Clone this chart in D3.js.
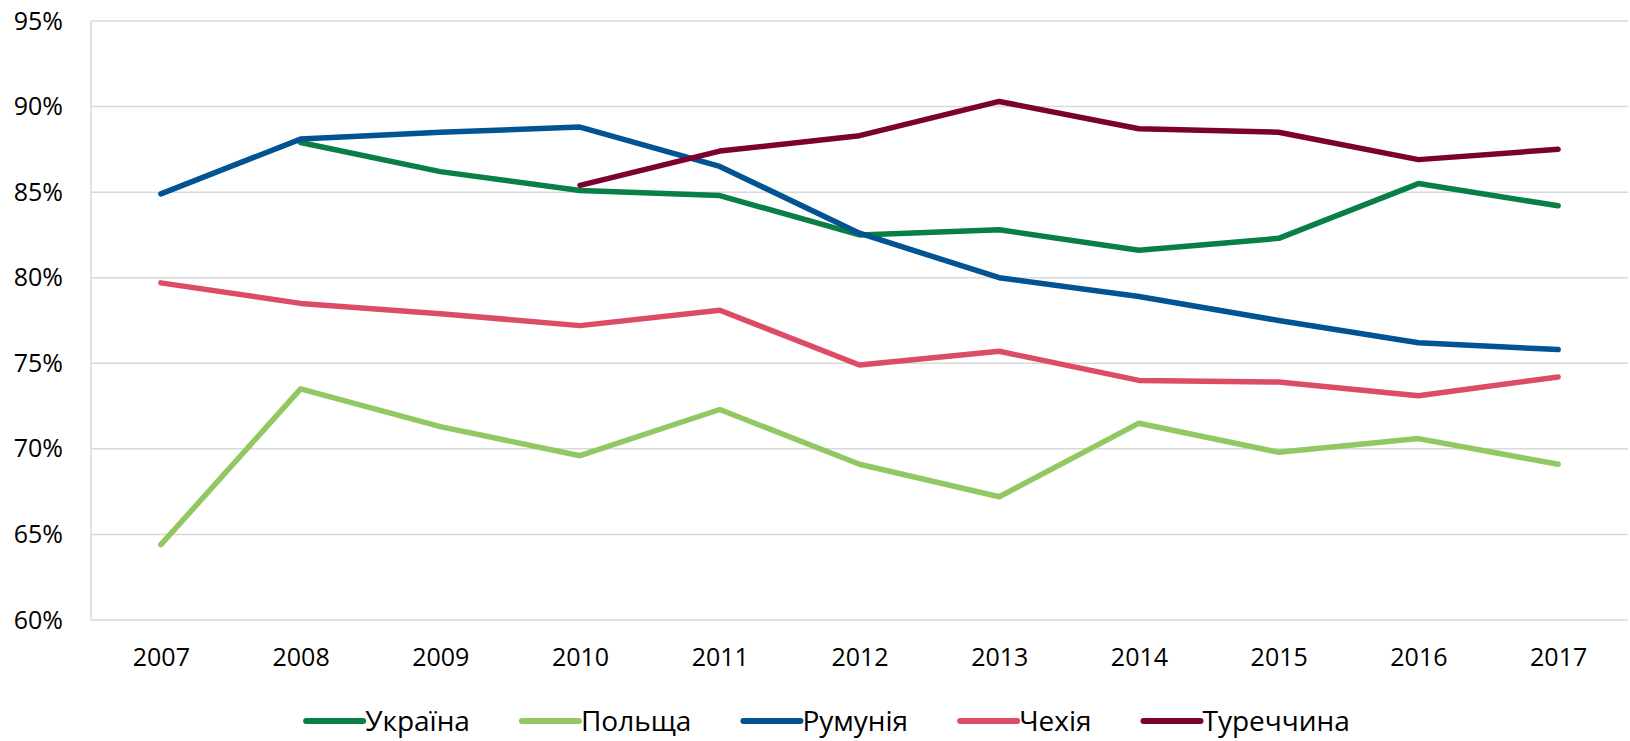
<!DOCTYPE html>
<html>
<head>
<meta charset="utf-8">
<script src="https://d3js.org/d3.v7.min.js"></script>
<title>D3</title>
<style>
  body { margin: 0; background: #fff; }
  text { font-family: "Open Sans", sans-serif; fill: #000; }
</style>
</head>
<body>
<script>
var years = ["2007", "2008", "2009", "2010", "2011", "2012", "2013", "2014", "2015", "2016", "2017"];
var yTicks = [0.60, 0.65, 0.70, 0.75, 0.80, 0.85, 0.90, 0.95];

// values in %, null = no data
var ukraine = [null, 87.9, 86.2, 85.1, 84.8, 82.5, 82.8, 81.6, 82.3, 85.5, 84.2];
var poland  = [64.4, 73.5, 71.3, 69.6, 72.3, 69.1, 67.2, 71.5, 69.8, 70.6, 69.1];
var romania = [84.9, 88.1, 88.5, 88.8, 86.5, 82.6, 80.0, 78.9, 77.5, 76.2, 75.8];
var czech   = [79.7, 78.5, 77.9, 77.2, 78.1, 74.9, 75.7, 74.0, 73.9, 73.1, 74.2];
var turkey  = [null, null, null, 85.4, 87.4, 88.3, 90.3, 88.7, 88.5, 86.9, 87.5];

var seriesNames = ["Україна", "Польща", "Румунія", "Чехія", "Туреччина"];
var seriesValues = [ukraine, poland, romania, czech, turkey];
var colors = ["#087f45", "#92c862", "#015491", "#dc4c67", "#7b0131"];

var W = 1630, H = 741;
var margin = { left: 91, right: 2, top: 21, bottom: 121 };

var svg = d3.select("body").append("svg")
    .attr("width", W)
    .attr("height", H);

var xScale = d3.scalePoint()
    .domain(years)
    .range([margin.left, W - margin.right])
    .padding(0.5);

var yScale = d3.scaleLinear()
    .domain([0.60, 0.95])
    .range([H - margin.bottom, margin.top]);

// gridlines
svg.append("g")
    .selectAll("line")
    .data(yTicks)
    .enter().append("line")
    .attr("x1", margin.left)
    .attr("x2", W - margin.right)
    .attr("y1", function (d) { return yScale(d); })
    .attr("y2", function (d) { return yScale(d); })
    .attr("stroke", "#d9d9d9")
    .attr("stroke-width", 1.5);

// left axis line
svg.append("line")
    .attr("x1", margin.left).attr("x2", margin.left)
    .attr("y1", yScale(0.95)).attr("y2", yScale(0.60))
    .attr("stroke", "#d9d9d9")
    .attr("stroke-width", 1.5);

var yAxis = d3.axisLeft(yScale)
    .tickValues(yTicks)
    .tickFormat(d3.format(".0%"))
    .tickSize(0)
    .tickPadding(28);

var yAxisG = svg.append("g")
    .attr("transform", "translate(" + margin.left + ",0)")
    .call(yAxis);
yAxisG.select(".domain").remove();
yAxisG.selectAll("text")
    .style("font-family", "'Open Sans', sans-serif")
    .style("font-size", "25px")
    .attr("fill", "#000");

var xAxis = d3.axisBottom(xScale).tickSize(0).tickPadding(0);
var xAxisG = svg.append("g")
    .attr("transform", "translate(0," + (H - margin.bottom) + ")")
    .call(xAxis);
xAxisG.select(".domain").remove();
xAxisG.selectAll("text")
    .attr("dy", null)
    .attr("y", 46)
    .style("font-family", "'Open Sans', sans-serif")
    .style("font-size", "25px")
    .attr("fill", "#000");

var line = d3.line()
    .defined(function (d) { return d != null; })
    .x(function (d, i) { return xScale(years[i]); })
    .y(function (d) { return yScale(d / 100); });

svg.append("g")
    .selectAll("path")
    .data(seriesValues)
    .enter().append("path")
    .attr("d", line)
    .attr("fill", "none")
    .attr("stroke", function (d, i) { return colors[i]; })
    .attr("stroke-width", 5.5)
    .attr("stroke-linejoin", "round")
    .attr("stroke-linecap", "round");

// legend
var gap = 52;
var legend = svg.append("g");
var lx = 0;
seriesNames.forEach(function (name, i) {
    var item = legend.append("g").attr("transform", "translate(" + lx + ",0)");
    item.append("line")
        .attr("x1", 0).attr("x2", 57)
        .attr("y1", 721).attr("y2", 721)
        .attr("stroke", colors[i])
        .attr("stroke-width", 6)
        .attr("stroke-linecap", "round");
    var t = item.append("text")
        .attr("x", 59)
        .attr("y", 731)
        .style("font-size", "28px")
        .text(name);
    lx += 59 + t.node().getComputedTextLength() + gap;
});
lx -= gap;
legend.attr("transform", "translate(" + (828 - lx / 2) + ",0)");
</script>
</body>
</html>
